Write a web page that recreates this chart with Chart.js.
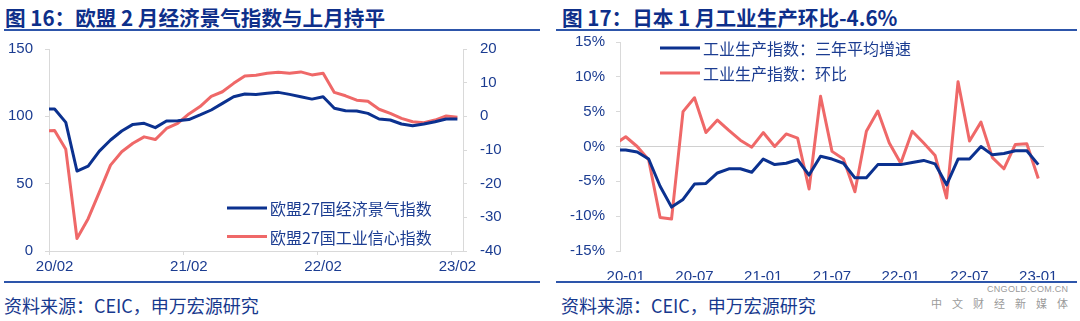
<!DOCTYPE html>
<html>
<head>
<meta charset="utf-8">
<script src="https://cdn.jsdelivr.net/npm/chart.js@4.4.1/dist/chart.umd.min.js"></script>
<style>
  body { margin: 0; width: 1080px; height: 321px; background: #fff; position: relative; overflow: hidden;
         font-family: "Noto Sans CJK SC", sans-serif; }
  .title { position: absolute; top: 2px; font-size: 20.6px; font-weight: 700; color: #0E2F8A; white-space: nowrap; }
  .rule  { position: absolute; height: 2px; background: #2D55AA; }
  .src   { position: absolute; top: 292px; font-size: 18px; color: #17398E; white-space: nowrap; }
  .box   { position: absolute; top: 30px; height: 250px; }
  .wm1   { position: absolute; left: 987px; top: 284px; font: 9px "Liberation Sans", sans-serif; color: #9a9a9a; letter-spacing: 0.3px; }
  .wm2   { position: absolute; left: 931px; top: 295px; font-size: 11px; color: #9a9a9a; letter-spacing: 10px; white-space: nowrap; }
</style>
</head>
<body>
<div class="title" style="left:5px">图 16：欧盟 2 月经济景气指数与上月持平</div>
<div class="title" style="left:562px">图 17：日本 1 月工业生产环比-4.6%</div>
<div class="rule" style="left:4px;width:536px;top:29px"></div>
<div class="rule" style="left:556px;width:521px;top:29px"></div>

<div class="box" style="left:0;width:535px"><canvas id="euChart" width="535" height="250"></canvas></div>
<div class="box" style="left:540px;width:540px"><canvas id="jpChart" width="540" height="250"></canvas></div>

<div class="rule" style="left:4px;width:536px;top:281px"></div>
<div class="rule" style="left:556px;width:521px;top:281px"></div>
<div class="src" style="left:4px">资料来源：CEIC，申万宏源研究</div>
<div class="src" style="left:561px">资料来源：CEIC，申万宏源研究</div>
<div class="wm1">CNGOLD.COM.CN</div>
<div class="wm2">中文财经新媒体</div>

<script>
// ── Data: EU sentiment (left chart) ───────────────────────────────
// first month sits just left of the axis and gets clipped
const euMonths = [
  '2020-01','2020-02','2020-03','2020-04','2020-05','2020-06','2020-07','2020-08','2020-09','2020-10','2020-11','2020-12',
  '2021-01','2021-02','2021-03','2021-04','2021-05','2021-06','2021-07','2021-08','2021-09','2021-10','2021-11','2021-12',
  '2022-01','2022-02','2022-03','2022-04','2022-05','2022-06','2022-07','2022-08','2022-09','2022-10','2022-11','2022-12',
  '2023-01','2023-02'
];
const esiValues = [
  105.4, 105.4, 95.5, 59.4, 63.1, 74.2, 82.4, 89.1, 94.0, 94.8, 91.6, 96.5,
  96.8, 97.6, 101.0, 104.7, 109.6, 114.6, 116.6, 116.3, 117.1, 117.8, 116.3, 114.6,
  112.8, 114.5, 106.0, 104.2, 103.9, 102.2, 98.0, 97.3, 94.3, 93.0, 94.3, 96.0,
  98.0, 98.0
];
const iciValues = [
  -4.3, -4.2, -9.8, -36.3, -30.4, -22.5, -14.5, -10.5, -8.0, -6.1, -6.9, -3.6,
  -2.1, 0.7, 2.9, 5.9, 7.3, 9.8, 12.0, 12.2, 12.8, 13.1, 12.8, 13.2,
  12.3, 12.8, 7.1, 6.1, 4.8, 4.5, 2.1, 0.9, -0.6, -1.6, -1.9, -1.1,
  0.1, -0.3
];
const euTickMonths = ['2020-02', '2021-02', '2022-02', '2023-02'];
const euTickLabels = ['20/02', '21/02', '22/02', '23/02'];

// ── Data: Japan industrial production (right chart) ───────────────
const jpMonths = [
  '2019-12',
  '2020-01','2020-02','2020-03','2020-04','2020-05','2020-06','2020-07','2020-08','2020-09','2020-10','2020-11','2020-12',
  '2021-01','2021-02','2021-03','2021-04','2021-05','2021-06','2021-07','2021-08','2021-09','2021-10','2021-11','2021-12',
  '2022-01','2022-02','2022-03','2022-04','2022-05','2022-06','2022-07','2022-08','2022-09','2022-10','2022-11','2022-12',
  '2023-01'
];
const ip3yAvg = [
  -0.5,
  -0.5, -0.8, -1.8, -5.7, -8.7, -7.6, -5.4, -5.3, -3.8, -3.2, -3.2, -3.7,
  -1.8, -2.6, -2.4, -1.9, -4.1, -1.4, -1.8, -2.4, -4.5, -4.5, -2.6, -2.6,
  -2.6, -2.3, -2.0, -2.5, -5.5, -1.8, -1.8, 0.0, -1.2, -1.0, -0.6, -0.6,
  -2.6
];
const ipMoM = [
  0.3,
  1.4, 0.0, -1.9, -10.2, -10.4, 5.0, 7.0, 2.0, 3.8, 2.3, 0.9, -0.1,
  2.0, 0.0, 1.8, 1.2, -6.1, 7.2, -0.7, -1.8, -6.5, 2.2, 5.1, 0.5,
  -2.4, 2.2, 0.5, -1.3, -7.4, 9.3, 0.8, 3.5, -1.6, -3.2, 0.3, 0.4,
  -4.6
];
const jpTickMonths = ['2020-01', '2020-07', '2021-01', '2021-07', '2022-01', '2022-07', '2023-01'];
const jpTickLabels = ['20-01', '20-07', '21-01', '21-07', '22-01', '22-07', '23-01'];

// ── Shared styling ────────────────────────────────────────────────
const BLUE = '#0B318F';
const RED  = '#EF6868';
const GRID = '#D9D9D9';
const TEXT = '#1B3C91';
const tickFont = { family: '"Liberation Sans", Arial, sans-serif', size: 15 };

// legend drawn inside the plot, anchored to the chart area
const inlineLegend = {
  id: 'inlineLegend',
  afterDraw(chart, args, opts) {
    const { ctx, chartArea } = chart;
    ctx.save();
    ctx.font = '16px "Noto Sans CJK SC", sans-serif';
    ctx.textBaseline = 'middle';
    chart.data.datasets.forEach((ds, i) => {
      const x = chartArea.left + opts.x;
      const y = chartArea.top + opts.y + i * opts.rowGap;
      ctx.strokeStyle = ds.borderColor;
      ctx.lineWidth = 3;
      ctx.beginPath();
      ctx.moveTo(x, y);
      ctx.lineTo(x + opts.lineLen, y);
      ctx.stroke();
      ctx.fillStyle = TEXT;
      ctx.fillText(ds.label, x + opts.lineLen + 3, y + 1);
    });
    ctx.restore();
  }
};

function lineSet(label, data, color, axis) {
  return {
    label, data, yAxisID: axis,
    borderColor: color, backgroundColor: color,
    borderWidth: 3, pointRadius: 0, tension: 0,
    borderJoinStyle: 'round', borderCapStyle: 'butt'
  };
}

// fixed axis sizes, and no extra room reserved for the end labels
const fixWidth  = w => s => { s.width = w; s.paddingTop = 0; s.paddingBottom = 0; };
const fixHeight = h => s => { s.height = h; s.paddingLeft = 0; s.paddingRight = 0; };

// ── Left: EU economic sentiment vs industrial confidence ──────────
new Chart(document.getElementById('euChart'), {
  type: 'line',
  data: {
    labels: euMonths,
    datasets: [
      lineSet('欧盟27国经济景气指数', esiValues, BLUE, 'y'),
      lineSet('欧盟27国工业信心指数', iciValues, RED, 'y1')
    ]
  },
  options: {
    responsive: false,
    animation: false,
    layout: { padding: { top: 19, left: 0, right: 0, bottom: 0 } },
    plugins: {
      legend: { display: false },
      tooltip: { enabled: false },
      inlineLegend: { x: 178, y: 159, rowGap: 28.5, lineLen: 40 }
    },
    scales: {
      x: {
        min: '2020-02',
        offset: true,
        grid: {
          offset: true, drawOnChartArea: false, tickLength: 4,
          color: c => (c.tick && c.tick.label ? GRID : 'rgba(0,0,0,0)')
        },
        border: { color: GRID, width: 1 },
        ticks: {
          autoSkip: false, maxRotation: 0, padding: 3,
          color: TEXT, font: tickFont,
          callback(value) {
            const k = euTickMonths.indexOf(this.getLabelForValue(value));
            return k >= 0 ? euTickLabels[k] : '';
          }
        },
        afterFit: fixHeight(29)
      },
      y: {
        position: 'left', min: 0, max: 150,
        grid: { drawOnChartArea: false, tickLength: 4, color: GRID },
        border: { color: GRID },
        ticks: { stepSize: 50, padding: 12, color: TEXT, font: tickFont },
        afterFit: fixWidth(49)
      },
      y1: {
        position: 'right', min: -40, max: 20,
        grid: { drawOnChartArea: false, tickLength: 4, color: GRID },
        border: { color: GRID },
        ticks: { stepSize: 10, padding: 13, color: TEXT, font: tickFont },
        afterFit: fixWidth(72)
      }
    }
  },
  plugins: [inlineLegend]
});

// ── Right: Japan industrial production ────────────────────────────
new Chart(document.getElementById('jpChart'), {
  type: 'line',
  data: {
    labels: jpMonths,
    datasets: [
      lineSet('工业生产指数：三年平均增速', ip3yAvg, BLUE, 'y'),
      lineSet('工业生产指数：环比', ipMoM, RED, 'y')
    ]
  },
  options: {
    responsive: false,
    animation: false,
    layout: { padding: { top: 12, left: 0, right: 36, bottom: 0 } },
    plugins: {
      legend: { display: false },
      tooltip: { enabled: false },
      inlineLegend: { x: 40, y: 6, rowGap: 25, lineLen: 40 }
    },
    scales: {
      x: {
        min: '2020-01',
        offset: true,
        grid: { display: false },
        border: { display: false },
        ticks: {
          autoSkip: false, maxRotation: 0, padding: 9,
          color: TEXT, font: tickFont,
          callback(value) {
            const k = jpTickMonths.indexOf(this.getLabelForValue(value));
            return k >= 0 ? jpTickLabels[k] : '';
          }
        },
        afterFit: fixHeight(29)
      },
      y: {
        min: -15, max: 15,
        grid: {
          tickLength: 4, tickColor: GRID,
          color: c => (c.tick && c.tick.value === 0 ? '#D0D0D0' : 'rgba(0,0,0,0)')
        },
        border: { color: GRID },
        ticks: {
          stepSize: 5, padding: 11, color: TEXT, font: tickFont,
          callback: v => v + '%'
        },
        afterFit: fixWidth(80)
      }
    }
  },
  plugins: [inlineLegend]
});
</script>
</body>
</html>
